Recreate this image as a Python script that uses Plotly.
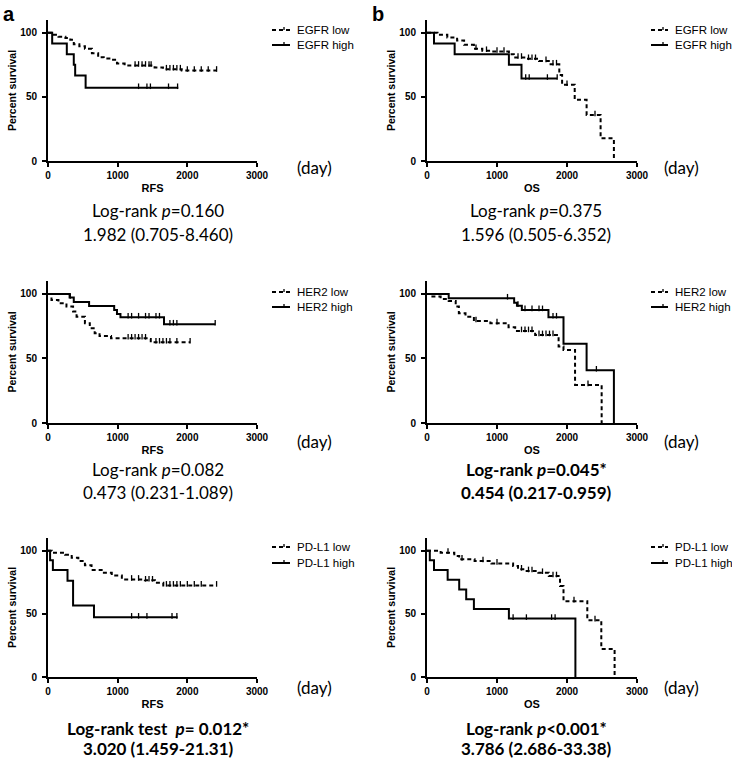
import plotly.graph_objects as go

W, H = 732, 763
BLACK = '#000000'
TICK_FONT = 'Liberation Sans, Arial, sans-serif'
NOTE_FONT = 'Lato, Carlito, Calibri, sans-serif'
LOW_DASH = '4px,3px'

# ---- data (days, percent survival) ----
# panel a: RFS by EGFR
egfr_rfs_low_t = [0, 50, 150, 250, 320, 370, 450, 530, 630, 720, 800, 910, 990, 1100, 1530, 1650, 1920, 2420]
egfr_rfs_low_s = [100, 98.4, 97, 96, 94.5, 91, 89.5, 87.5, 84, 81, 80, 79, 76, 74.5, 73, 71.6, 70.6, 70.6]
egfr_rfs_low_c = [1250, 1300, 1350, 1400, 1450, 1480, 1700, 1750, 1800, 1850, 1900, 2000, 2100, 2200, 2300, 2420]
egfr_rfs_high_t = [0, 60, 270, 370, 390, 540, 1870]
egfr_rfs_high_s = [100, 91.7, 83.3, 75, 66.7, 57.1, 57.1]
egfr_rfs_high_c = [1300, 1420, 1470, 1730, 1860]

# panel b: OS by EGFR
egfr_os_low_t = [0, 150, 290, 430, 530, 670, 790, 910, 1170, 1240, 1390, 1600, 1740, 1890, 1930, 2110, 2280, 2480, 2670]
egfr_os_low_s = [100, 98.4, 96.4, 94, 90.6, 87.5, 86, 85.4, 83.3, 80.7, 79.7, 78.1, 75.5, 67, 59.4, 47.7, 35.9, 17.7, 0]
egfr_os_low_c = [700, 850, 1000, 1100, 1300, 1350, 1450, 1500, 1550, 1700, 1800, 1850, 2000, 2400]
egfr_os_high_t = [0, 100, 395, 1170, 1350, 1860]
egfr_os_high_s = [100, 91.7, 83.3, 75, 64.3, 64.3]
egfr_os_high_c = [1410, 1460, 1720, 1860]

# panel c: RFS by HER2
her2_rfs_low_t = [0, 50, 150, 265, 360, 410, 530, 600, 670, 740, 905, 1430, 1475, 2040]
her2_rfs_low_s = [100, 95.3, 92.8, 90.2, 86.3, 82.4, 77.3, 73.4, 69.5, 67.4, 65.6, 65.1, 62.5, 62.5]
her2_rfs_low_c = [1150, 1200, 1250, 1300, 1350, 1400, 1550, 1600, 1650, 1700, 1750, 1850, 2040]
her2_rfs_high_t = [0, 310, 370, 590, 950, 990, 1040, 1665, 2400]
her2_rfs_high_s = [100, 97.2, 93.8, 90.7, 87.5, 84.4, 81.9, 76.5, 76.5]
her2_rfs_high_c = [320, 1150, 1200, 1300, 1400, 1450, 1550, 1600, 1750, 1800, 1850, 2400]

# panel d: OS by HER2
her2_os_low_t = [0, 50, 195, 310, 410, 455, 550, 670, 905, 1165, 1260, 1545, 1880, 1950, 2115, 2495]
her2_os_low_s = [100, 98, 96, 94.6, 90.2, 85, 82.4, 79, 77.3, 74.2, 71.3, 68.2, 59.2, 56.6, 29.5, 0]
her2_os_low_c = [700, 1000, 1350, 1400, 1450, 1500, 1600, 1650, 1700, 1750, 1800, 2300]
her2_os_high_t = [0, 310, 1245, 1285, 1355, 1735, 1950, 2280, 2670]
her2_os_high_s = [100, 96.6, 93.1, 90.9, 87.6, 81.9, 61.3, 40.8, 0]
her2_os_high_c = [1150, 1300, 1400, 1500, 1600, 1650, 1800, 1850, 2420]

# panel e: RFS by PD-L1
pdl1_rfs_low_t = [0, 55, 245, 340, 435, 530, 625, 770, 915, 1060, 1390, 1535, 1655, 2420]
pdl1_rfs_low_s = [100, 98.4, 96.8, 94.4, 91.8, 88.4, 84.7, 82.5, 80.4, 77.2, 76.5, 74.6, 72.5, 72.5]
pdl1_rfs_low_c = [1200, 1300, 1400, 1450, 1500, 1700, 1750, 1800, 1850, 1900, 2000, 2100, 2200, 2420]
pdl1_rfs_high_t = [0, 30, 70, 280, 360, 660, 1860]
pdl1_rfs_high_s = [100, 92.3, 84.6, 76.2, 56.6, 47.2, 47.2]
pdl1_rfs_high_c = [1200, 1300, 1420, 1780, 1850]

# panel f: OS by PD-L1
pdl1_os_low_t = [0, 195, 390, 460, 680, 920, 1230, 1300, 1400, 1590, 1740, 1900, 1950, 2290, 2490, 2680]
pdl1_os_low_s = [100, 98.4, 95.8, 93.1, 91.8, 89.9, 87.8, 85.2, 83.9, 82.5, 79.9, 72, 60, 45, 22.2, 0]
pdl1_os_low_c = [300, 500, 800, 1000, 1350, 1450, 1500, 1650, 1800, 1850, 2100, 2400]
pdl1_os_high_t = [0, 40, 100, 295, 460, 560, 670, 1170, 2120]
pdl1_os_high_s = [100, 92.3, 84.6, 76.9, 69.2, 61.5, 53.8, 46.2, 0]
pdl1_os_high_c = [1230, 1420, 1780, 1830]

x_ticks = [0, 1000, 2000, 3000]
y_ticks = [0, 50, 100]

panels = [
    dict(marker='EGFR', endpoint='RFS',
         low=(egfr_rfs_low_t, egfr_rfs_low_s, egfr_rfs_low_c),
         high=(egfr_rfs_high_t, egfr_rfs_high_s, egfr_rfs_high_c),
         notes=['Log-rank <i>p</i>=0.160', '1.982 (0.705-8.460)'], bold=False),
    dict(marker='EGFR', endpoint='OS',
         low=(egfr_os_low_t, egfr_os_low_s, egfr_os_low_c),
         high=(egfr_os_high_t, egfr_os_high_s, egfr_os_high_c),
         notes=['Log-rank <i>p</i>=0.375', '1.596 (0.505-6.352)'], bold=False),
    dict(marker='HER2', endpoint='RFS',
         low=(her2_rfs_low_t, her2_rfs_low_s, her2_rfs_low_c),
         high=(her2_rfs_high_t, her2_rfs_high_s, her2_rfs_high_c),
         notes=['Log-rank <i>p</i>=0.082', '0.473 (0.231-1.089)'], bold=False),
    dict(marker='HER2', endpoint='OS',
         low=(her2_os_low_t, her2_os_low_s, her2_os_low_c),
         high=(her2_os_high_t, her2_os_high_s, her2_os_high_c),
         notes=['Log-rank <i>p</i>=0.045*', '0.454 (0.217-0.959)'], bold=True),
    dict(marker='PD-L1', endpoint='RFS',
         low=(pdl1_rfs_low_t, pdl1_rfs_low_s, pdl1_rfs_low_c),
         high=(pdl1_rfs_high_t, pdl1_rfs_high_s, pdl1_rfs_high_c),
         notes=['Log-rank test\u00a0 <i>p</i>= 0.012*', '3.020 (1.459-21.31)'], bold=True),
    dict(marker='PD-L1', endpoint='OS',
         low=(pdl1_os_low_t, pdl1_os_low_s, pdl1_os_low_c),
         high=(pdl1_os_high_t, pdl1_os_high_s, pdl1_os_high_c),
         notes=['Log-rank <i>p</i>&lt;0.001*', '3.786 (2.686-33.38)'], bold=True),
]

# pixel boxes of each plot area: (left, right, bottom, top)
col_px = [(48, 257), (427, 637)]
row_px = [(161, 20), (423, 281), (677, 538)]
note_rows = [(210, 234), (469, 492), (728, 748)]
note_cx = [158, 536]
day_cx = [314, 681]
day_y = [167, 441, 687]
# key drawn by hand (a plotly legend near the right edge would squeeze the plots)
key_x = [(272, 290, 295), (651, 668, 673)]
key_y = [(30, 45), (292, 307), (547, 563)]


def step_value(ts, ss, c):
    v = ss[0]
    for t, s in zip(ts, ss):
        if t <= c:
            v = s
    return v


def px(x):
    return x / W


def py(y):
    return 1 - y / H


fig = go.Figure()
layout = {}
annotations = []
shapes = []

for i, p in enumerate(panels):
    r, c = divmod(i, 2)
    n = '' if i == 0 else str(i + 1)
    xa, ya = 'x' + n, 'y' + n
    for grp, dash in (('low', LOW_DASH), ('high', 'solid')):
        ts, ss, cs = p[grp]
        fig.add_trace(go.Scatter(
            x=ts, y=ss, mode='lines', line_shape='hv',
            line=dict(color=BLACK, width=2, dash=dash),
            name=f"{p['marker']} {grp}", showlegend=False,
            xaxis=xa, yaxis=ya, hoverinfo='skip'))
        fig.add_trace(go.Scatter(
            x=cs, y=[step_value(ts, ss, v) + 1.2 for v in cs], mode='markers',
            marker=dict(symbol='line-ns', size=4, line=dict(color=BLACK, width=1.3)),
            showlegend=False, xaxis=xa, yaxis=ya, hoverinfo='skip'))

    left, right = col_px[c]
    bottom, top = row_px[r]
    axis_common = dict(
        showgrid=False, zeroline=False, showline=True, linecolor=BLACK, linewidth=2,
        ticks='outside', ticklen=4, tickwidth=2, tickcolor=BLACK, automargin=False,
        tickfont=dict(family=TICK_FONT, size=10, color=BLACK, weight='bold'),
    )
    layout['xaxis' + n] = dict(
        axis_common, domain=[px(left), px(right)], range=[0, 3000],
        tickvals=x_ticks, anchor=ya,
        title=dict(text=p['endpoint'], standoff=4,
                   font=dict(family=TICK_FONT, size=11, color=BLACK, weight='bold')))
    layout['yaxis' + n] = dict(
        axis_common, domain=[py(bottom), py(top)], range=[0, 110],
        tickvals=y_ticks, anchor=xa, ticklabelstandoff=3,
        title=dict(text='Percent survival', standoff=2,
                   font=dict(family=TICK_FONT, size=10.5, color=BLACK, weight='bold')))

    # key: short line sample with a censor tick, then the group name
    k0, k1, kt = key_x[c]
    for grp, dash, ky in (('low', LOW_DASH, key_y[r][0]), ('high', 'solid', key_y[r][1])):
        shapes.append(dict(type='line', xref='paper', yref='paper',
                           x0=px(k0), x1=px(k1), y0=py(ky), y1=py(ky),
                           line=dict(color=BLACK, width=2, dash=dash)))
        shapes.append(dict(type='line', xref='paper', yref='paper',
                           x0=px(k0 + 12), x1=px(k0 + 12), y0=py(ky), y1=py(ky - 3),
                           line=dict(color=BLACK, width=1.3)))
        annotations.append(dict(
            text=f"{p['marker']} {grp}", x=px(kt), y=py(ky), xref='paper', yref='paper',
            xanchor='left', yanchor='middle', showarrow=False,
            font=dict(family=TICK_FONT, size=11.5, color=BLACK)))

    for line_y, text in zip(note_rows[r], p['notes']):
        annotations.append(dict(
            text=f'<b>{text}</b>' if p['bold'] else text,
            x=px(note_cx[c]), y=py(line_y), xref='paper', yref='paper',
            xanchor='center', yanchor='middle', showarrow=False,
            font=dict(family=NOTE_FONT, size=17, color=BLACK)))
    annotations.append(dict(
        text='(day)', x=px(day_cx[c]), y=py(day_y[r]), xref='paper', yref='paper',
        xanchor='center', yanchor='middle', showarrow=False,
        font=dict(family=NOTE_FONT, size=17, color=BLACK)))

for label, lx in (('a', 1), ('b', 370)):
    annotations.append(dict(
        text=f'<b>{label}</b>', x=px(lx), y=py(1), xref='paper', yref='paper',
        xanchor='left', yanchor='top', showarrow=False,
        font=dict(family=TICK_FONT, size=20, color=BLACK)))

fig.update_layout(
    width=W, height=H, margin=dict(l=0, r=0, t=0, b=0, pad=0, autoexpand=False),
    plot_bgcolor='white', paper_bgcolor='white', showlegend=False,
    annotations=annotations, shapes=shapes, **layout)

# drop the browser's default body margin and scrollbars so the figure sits at the page origin
fig.write_html('out.html', config={'displayModeBar': False},
               post_script="document.body.style.margin='0';"
                           "document.body.style.overflow='hidden';"
                           "document.documentElement.style.overflow='hidden';")
